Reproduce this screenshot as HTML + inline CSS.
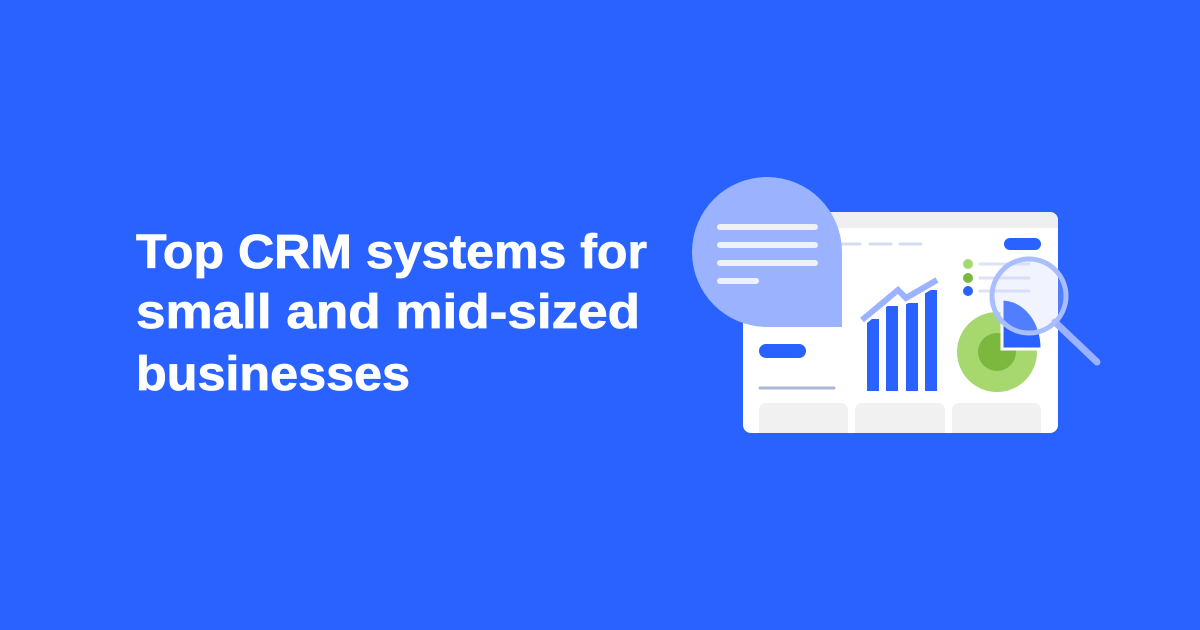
<!DOCTYPE html>
<html><head><style>
html,body{margin:0;padding:0;width:1200px;height:630px;overflow:hidden;background:#2962fe;}
</style></head><body>
<svg width="1200" height="630" viewBox="0 0 1200 630" xmlns="http://www.w3.org/2000/svg">
<rect width="1200" height="630" fill="#2962fe"/>
<g font-family="Liberation Sans, sans-serif" font-weight="bold" font-size="48" fill="#ffffff" stroke="#ffffff" stroke-width="0.8">
<text x="136" y="268" textLength="511" lengthAdjust="spacingAndGlyphs">Top CRM systems for</text>
<text x="136" y="328" textLength="504" lengthAdjust="spacingAndGlyphs">small and mid-sized</text>
<text x="136" y="390" textLength="274" lengthAdjust="spacingAndGlyphs">businesses</text>
</g>
<!-- card -->
<rect x="743" y="212" width="315" height="221" rx="8" fill="#ffffff"/>
<path d="M751 212 H1050 a8 8 0 0 1 8 8 V228 H743 V220 a8 8 0 0 1 8 -8z" fill="#efefef"/>
<g stroke="#d6dcf2" stroke-width="3" stroke-linecap="round">
<line x1="842" y1="244" x2="860" y2="244"/><line x1="870" y1="244" x2="891" y2="244"/><line x1="900" y1="244" x2="921" y2="244"/>
</g>
<rect x="1004" y="238" width="37" height="12" rx="6" fill="#2962fe"/>
<circle cx="968" cy="264" r="5" fill="#a6d86f"/>
<circle cx="968" cy="278" r="5" fill="#7cb83e"/>
<circle cx="968" cy="291" r="5" fill="#2962fe"/>
<g stroke="#dde2f6" stroke-width="3" stroke-linecap="round">
<line x1="980" y1="264" x2="1029" y2="264"/><line x1="980" y1="278" x2="1029" y2="278"/><line x1="980" y1="291" x2="1029" y2="291"/>
</g>
<g fill="#2962fe">
<rect x="867" y="319" width="12" height="72"/>
<rect x="886" y="306" width="12" height="85"/>
<rect x="906" y="303" width="12" height="88"/>
<rect x="925" y="290" width="12" height="101"/>
</g>
<polyline points="862,320 898,290 906,298 937,280" fill="none" stroke="#ffffff" stroke-width="11"/>
<polyline points="862,320 898,290 906,298 937,280" fill="none" stroke="#9bb3ff" stroke-width="6"/>
<circle cx="997" cy="352" r="40" fill="#a6d86f"/>
<circle cx="997" cy="352" r="19" fill="#7cb83e"/>
<path d="M1002 299 A40 49 0 0 1 1042 348 L1042 349 H1002 Z" fill="#2962fe" stroke="#fff" stroke-width="3"/>
<line x1="1055" y1="322" x2="1097" y2="362" stroke="#9bb3ff" stroke-width="7" stroke-linecap="round"/>
<circle cx="1029" cy="296" r="37" fill="rgba(200,212,255,0.25)" stroke="#a9bdff" stroke-width="5"/>
<rect x="759" y="344" width="47" height="14" rx="7" fill="#2962fe"/>
<line x1="760" y1="388" x2="834" y2="388" stroke="#a9b6d8" stroke-width="3" stroke-linecap="round"/>
<g fill="#f1f1f1">
<path d="M759 433 V410 a7 7 0 0 1 7 -7 H841 a7 7 0 0 1 7 7 V433Z"/>
<path d="M855 433 V410 a7 7 0 0 1 7 -7 H938 a7 7 0 0 1 7 7 V433Z"/>
<path d="M952 433 V410 a7 7 0 0 1 7 -7 H1034 a7 7 0 0 1 7 7 V433Z"/>
</g>
<path d="M842 252 A75 75 0 1 0 767 327 H842 Z" fill="#9bb3ff"/>
<g stroke="#eef1fb" stroke-width="6" stroke-linecap="round">
<line x1="720" y1="227" x2="815" y2="227"/>
<line x1="720" y1="245" x2="815" y2="245"/>
<line x1="720" y1="263" x2="815" y2="263"/>
<line x1="720" y1="281" x2="756" y2="281"/>
</g>
</svg>
</body></html>
